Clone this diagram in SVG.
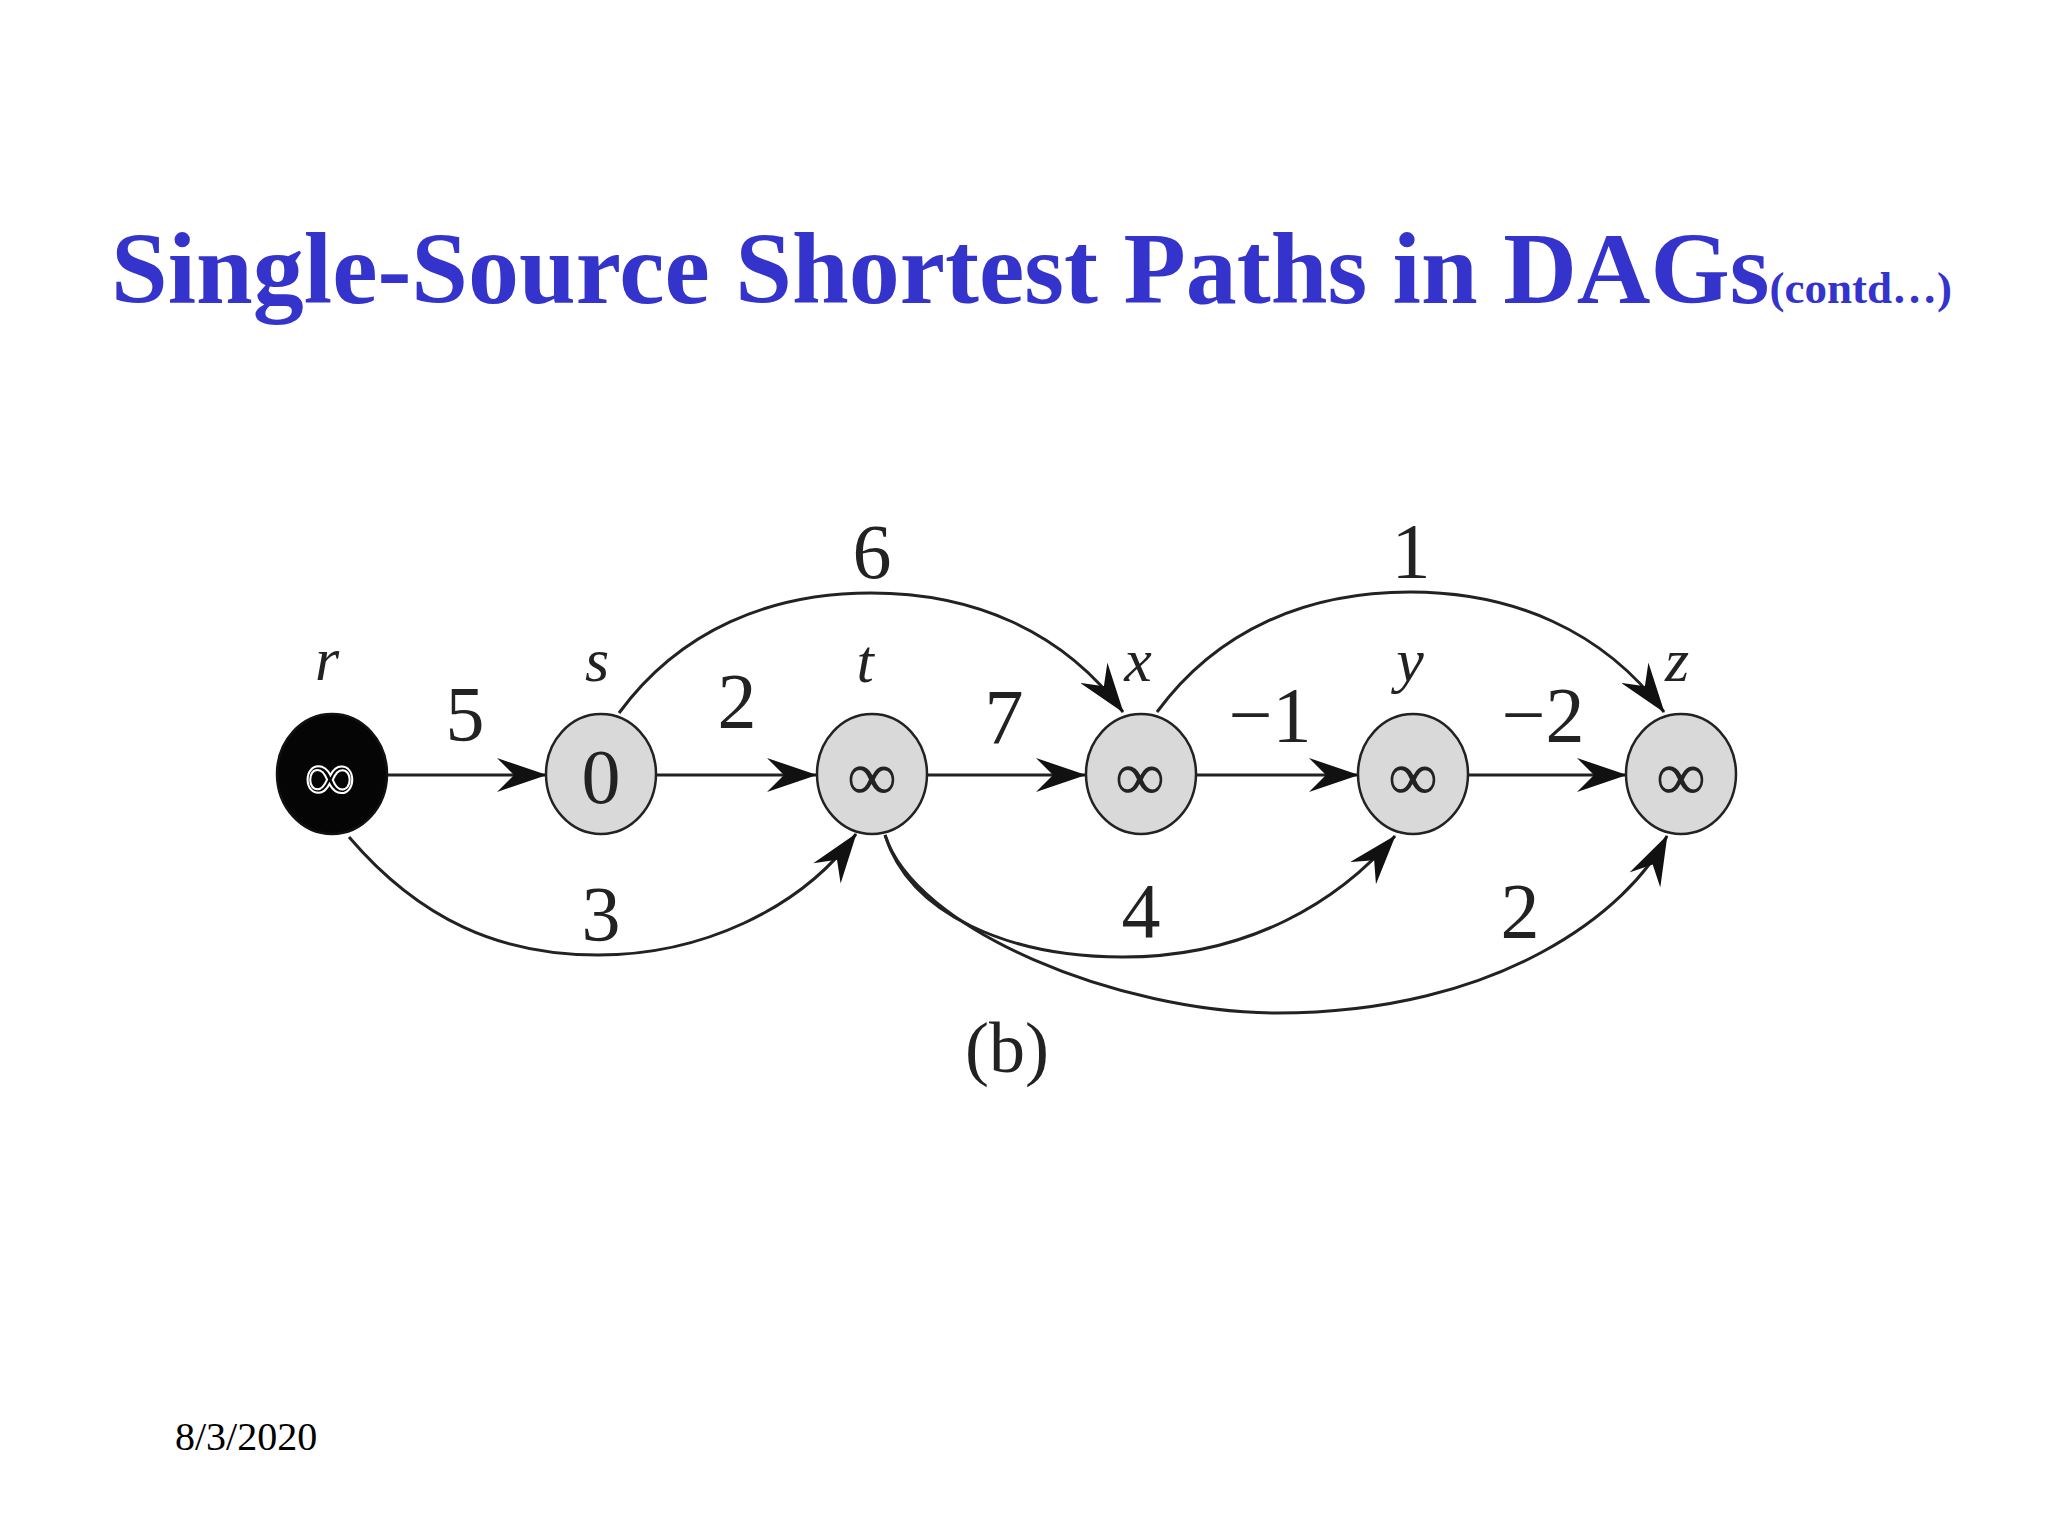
<svg xmlns="http://www.w3.org/2000/svg" width="2048" height="1536" viewBox="0 0 2048 1536">
<defs>
<style>
.title{font-family:"Liberation Serif","Times New Roman",serif;font-weight:bold;fill:#3434cc}
.node{fill:#d9d9d9;stroke:#222;stroke-width:2.5}
.src{fill:#050505;stroke:#111;stroke-width:2.5}
.inf{font-family:"Liberation Serif","Times New Roman",serif;font-size:70px;text-anchor:middle;fill:#222}
.val{font-family:"Liberation Serif","Times New Roman",serif;font-size:78px;text-anchor:middle;fill:#222}
.name{font-family:"Liberation Serif","Times New Roman",serif;font-style:italic;font-size:62px;text-anchor:middle;fill:#222}
.lbl{font-family:"Liberation Serif","Times New Roman",serif;font-size:78px;text-anchor:middle;fill:#222}
.edge{fill:none;stroke:#222;stroke-width:3;marker-end:url(#arr)}
.foot{font-family:"Liberation Serif","Times New Roman",serif;font-size:40px;fill:#000}
</style>
<marker id="arr" markerUnits="userSpaceOnUse" viewBox="0 0 50 34" refX="49" refY="17" markerWidth="50" markerHeight="34" orient="auto">
<path d="M0,0 L50,17 L0,34 L17,17 Z" fill="#111"/>
</marker>
</defs>
<rect width="2048" height="1536" fill="#fff"/>
<text class="title" x="111" y="303" font-size="102">Single-Source Shortest Paths in DAGs<tspan font-size="45">(contd…)</tspan></text>

<g id="connectors">
<path class="edge" d="M388,775 L546,775"/>
<path class="edge" d="M656,775 L816,775"/>
<path class="edge" d="M927,775 L1085,775"/>
<path class="edge" d="M1196,775 L1358,775"/>
<path class="edge" d="M1468,775 L1626,775"/>
<path class="edge" d="M619,713 C680,630 770,593 871,593 C972,593 1062,630 1123,712"/>
<path class="edge" d="M1157,712 C1218,629 1308,592 1410,592 C1512,592 1603,630 1664,712"/>
<path class="edge" d="M349,837 C420,920 500,955 598,955 C700,955 800,910 856,834"/>
<path class="edge" d="M885,835 C910,915 1010,957 1123,957 C1250,957 1340,900 1395,836"/>
<path class="edge" d="M885,835 C915,930 1120,1013 1277,1013 C1500,1013 1630,910 1667,836"/>
<text class="lbl" x="465" y="740">5</text>
<text class="lbl" x="737" y="727">2</text>
<text class="lbl" x="1004" y="743">7</text>
<text class="lbl" x="1270" y="741">−1</text>
<text class="lbl" x="1543" y="741">−2</text>
<text class="lbl" x="872" y="578">6</text>
<text class="lbl" x="1411" y="577">1</text>
<text class="lbl" x="601" y="940">3</text>
<text class="lbl" x="1141" y="937">4</text>
<text class="lbl" x="1520" y="937">2</text>
</g>

<g id="node-r"><ellipse class="src" cx="332" cy="774" rx="55" ry="60"/><text class="inf" x="330" y="800" fill="#000" style="fill:#000;stroke:#fff;stroke-width:2">∞</text><text class="name" x="327" y="680">r</text></g>
<g id="node-s"><ellipse class="node" cx="601" cy="774" rx="55" ry="60"/><text class="val" x="601" y="803">0</text><text class="name" x="597" y="681">s</text></g>
<g id="node-t"><ellipse class="node" cx="872" cy="774" rx="55" ry="60"/><text class="inf" x="872" y="800">∞</text><text class="name" x="865" y="682">t</text></g>
<g id="node-x"><ellipse class="node" cx="1141" cy="774" rx="55" ry="60"/><text class="inf" x="1140" y="800">∞</text><text class="name" x="1138" y="681">x</text></g>
<g id="node-y"><ellipse class="node" cx="1413" cy="774" rx="55" ry="60"/><text class="inf" x="1413" y="800">∞</text><text class="name" x="1410" y="681">y</text></g>
<g id="node-z"><ellipse class="node" cx="1681" cy="774" rx="55" ry="60"/><text class="inf" x="1681" y="800">∞</text><text class="name" x="1677" y="681">z</text></g>

<text class="lbl" x="1007" y="1072" font-size="72" style="font-size:72px">(b)</text>
<text class="foot" x="175" y="1450">8/3/2020</text>
</svg>
